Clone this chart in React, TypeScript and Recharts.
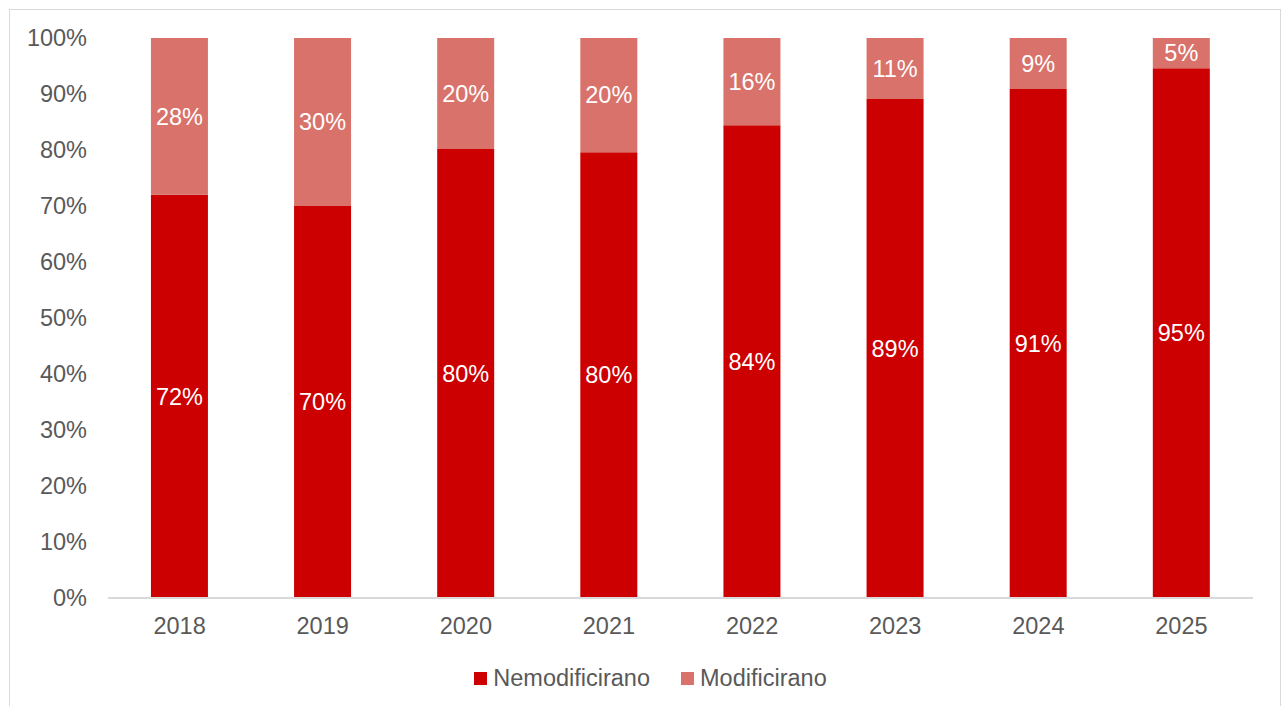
import React from 'react';
import { BarChart, Bar, XAxis, YAxis, Legend, LabelList } from 'recharts';

const years = ['2018', '2019', '2020', '2021', '2022', '2023', '2024', '2025'];
const nemodificirano = [72, 70, 80.2, 79.6, 84.4, 89.1, 90.9, 94.6];
const modificirano = [28, 30, 19.8, 20.4, 15.6, 10.9, 9.1, 5.4];
const yTicks = [0, 10, 20, 30, 40, 50, 60, 70, 80, 90, 100];

const data = years.map((year, i) => ({
  year,
  nemod: nemodificirano[i],
  mod: modificirano[i],
}));

const FONT = '"Liberation Sans", Arial, sans-serif';
const DARK = '#CC0000';
const LIGHT = '#D8726A';
const GREY = '#595959';
const FS = 23.5;

const legendItems = [
  { name: 'Nemodificirano', color: DARK },
  { name: 'Modificirano', color: LIGHT },
];

const ChartLegend = () => (
  <div
    style={{
      display: 'flex',
      justifyContent: 'center',
      alignItems: 'center',
      height: 40,
      paddingLeft: 38,
      fontFamily: FONT,
      fontSize: FS,
      color: GREY,
    }}
  >
    {legendItems.map((item, i) => (
      <span
        key={item.name}
        style={{ display: 'flex', alignItems: 'center', marginLeft: i ? 31 : 0 }}
      >
        <span
          style={{ width: 13, height: 13, background: item.color, marginRight: 6, display: 'inline-block' }}
        />
        {item.name}
      </span>
    ))}
  </div>
);

const pct = (v: any) => `${Math.round(Number(v))}%`;

export default function App() {
  return (
    <div
      style={{
        position: 'absolute',
        left: 9,
        top: 9,
        width: 1270,
        height: 697,
        borderTop: '1px solid #d9d9d9',
        borderLeft: '1px solid #d9d9d9',
        borderRight: '1px solid #d9d9d9',
        background: '#fff',
      }}
    >
      <BarChart
        width={1270}
        height={696}
        data={data}
        margin={{ top: 28, right: 27, left: 0, bottom: 8 }}
        barCategoryGap="30%"
        style={{ fontFamily: FONT }}
      >
        <XAxis
          dataKey="year"
          height={60}
          tickLine={false}
          axisLine={{ stroke: '#d9d9d9', strokeWidth: 2 }}
          tick={{ fill: GREY, fontSize: FS }}
          tickMargin={13}
        />
        <YAxis
          width={98}
          domain={[0, 100]}
          ticks={yTicks}
          interval={0}
          tickFormatter={(v) => `${v}%`}
          axisLine={false}
          tickLine={false}
          tick={{ fill: GREY, fontSize: FS }}
          tickMargin={15}
        />
        <Legend verticalAlign="bottom" content={<ChartLegend />} wrapperStyle={{ height: 40 }} />
        <Bar dataKey="nemod" name="Nemodificirano" stackId="a" fill={DARK} isAnimationActive={false}>
          <LabelList dataKey="nemod" position="center" formatter={pct} fill="#fff" fontSize={FS} />
        </Bar>
        <Bar dataKey="mod" name="Modificirano" stackId="a" fill={LIGHT} isAnimationActive={false}>
          <LabelList dataKey="mod" position="center" formatter={pct} fill="#fff" fontSize={FS} />
        </Bar>
      </BarChart>
    </div>
  );
}
